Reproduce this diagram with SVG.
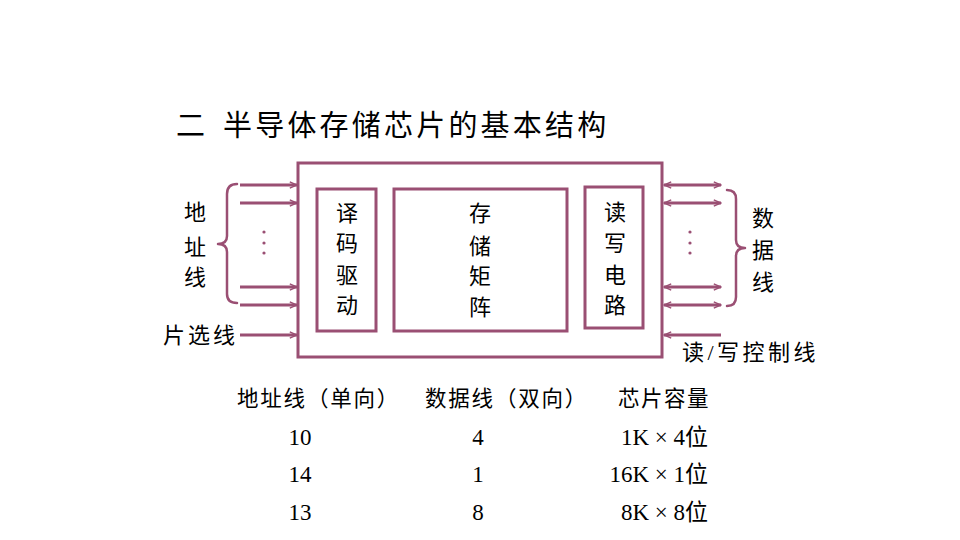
<svg xmlns="http://www.w3.org/2000/svg" width="960" height="540" viewBox="0 0 960 540">
<defs>
<style>
.box{fill:none;stroke:#9a4f73;stroke-width:3}
.ln{fill:none;stroke:#9a4f73;stroke-width:3}
.br{fill:none;stroke:#9a4f73;stroke-width:2.5;stroke-linecap:round;stroke-linejoin:round}
.dot{fill:#9a4f73}
.t{font-family:"Liberation Serif","Noto Sans CJK SC",serif;fill:#000}
.c{font-size:22px;text-anchor:middle}
.tb{font-size:21.5px;letter-spacing:1.8px}
.num{font-size:23px}
</style>
<marker id="ah" viewBox="0 0 10 10" refX="9" refY="5" markerWidth="9" markerHeight="9" markerUnits="userSpaceOnUse" orient="auto-start-reverse">
<path d="M1,1.5 L9,5 L1,8.5" fill="none" stroke="#9a4f73" stroke-width="1.6"/>
</marker>
</defs>
<rect width="960" height="540" fill="#fff"/>
<text class="t" x="176" y="136" style="font-size:29px">二</text>
<text class="t" x="223" y="136" style="font-size:29px;letter-spacing:3.2px">半导体存储芯片的基本结构</text>

<g id="chip">
<rect class="box" x="298" y="163" width="364" height="194"/>
</g>
<g id="decoder">
<rect class="box" x="317" y="189" width="59" height="142"/>
<text class="t c" x="347" y="221">译</text>
<text class="t c" x="347" y="251">码</text>
<text class="t c" x="347" y="283">驱</text>
<text class="t c" x="347" y="313">动</text>
</g>
<g id="matrix">
<rect class="box" x="394" y="189" width="173" height="142"/>
<text class="t c" x="480" y="221">存</text>
<text class="t c" x="480" y="254">储</text>
<text class="t c" x="480" y="284">矩</text>
<text class="t c" x="480" y="315">阵</text>
</g>
<g id="rw">
<rect class="box" x="585" y="187" width="58" height="141"/>
<text class="t c" x="615" y="220">读</text>
<text class="t c" x="615" y="251">写</text>
<text class="t c" x="615" y="283">电</text>
<text class="t c" x="615" y="313">路</text>
</g>

<g id="connectors">
<line class="ln" x1="240" y1="185" x2="297" y2="185" marker-end="url(#ah)"/>
<line class="ln" x1="240" y1="203" x2="297" y2="203" marker-end="url(#ah)"/>
<line class="ln" x1="240" y1="287" x2="297" y2="287" marker-end="url(#ah)"/>
<line class="ln" x1="240" y1="305" x2="297" y2="305" marker-end="url(#ah)"/>
<line class="ln" x1="240" y1="335" x2="297" y2="335" marker-end="url(#ah)"/>
<line class="ln" x1="664" y1="185" x2="721" y2="185" marker-start="url(#ah)" marker-end="url(#ah)"/>
<line class="ln" x1="664" y1="203" x2="721" y2="203" marker-start="url(#ah)" marker-end="url(#ah)"/>
<line class="ln" x1="664" y1="287" x2="721" y2="287" marker-start="url(#ah)" marker-end="url(#ah)"/>
<line class="ln" x1="664" y1="305" x2="721" y2="305" marker-start="url(#ah)" marker-end="url(#ah)"/>
<line class="ln" x1="721" y1="335" x2="664" y2="335" marker-end="url(#ah)"/>
</g>

<g id="addr-label">
<path class="br" d="M237,184 Q227,184 227,194 L227,236 Q227,244 218,244 Q227,244 227,252 L227,294 Q227,303 237,303"/>
<circle class="dot" cx="264" cy="232" r="1.6"/>
<circle class="dot" cx="264" cy="243" r="1.6"/>
<circle class="dot" cx="264" cy="253" r="1.6"/>
<text class="t c" x="195" y="220">地</text>
<text class="t c" x="195" y="255">址</text>
<text class="t c" x="195" y="285">线</text>
<text class="t" x="163" y="343" style="font-size:22px;letter-spacing:3px">片选线</text>
</g>
<g id="data-label">
<path class="br" d="M727,190 Q736,190 736,199 L736,240 Q736,248 745,248 Q736,248 736,256 L736,297 Q736,306 727,306"/>
<circle class="dot" cx="690" cy="232" r="1.6"/>
<circle class="dot" cx="690" cy="243" r="1.6"/>
<circle class="dot" cx="690" cy="253" r="1.6"/>
<text class="t c" x="763" y="226">数</text>
<text class="t c" x="763" y="258">据</text>
<text class="t c" x="763" y="290">线</text>
<text class="t" x="682" y="360" style="font-size:22px;letter-spacing:3.5px">读/写控制线</text>
</g>

<g id="table">
<text class="t tb" x="237" y="406">地址线（单向）</text>
<text class="t tb" x="425" y="406">数据线（双向）</text>
<text class="t tb" x="618" y="406" style="letter-spacing:1.5px">芯片容量</text>
<text class="t num" x="300" y="445" text-anchor="middle">10</text>
<text class="t num" x="300" y="482" text-anchor="middle">14</text>
<text class="t num" x="300" y="520" text-anchor="middle">13</text>
<text class="t num" x="478" y="445" text-anchor="middle">4</text>
<text class="t num" x="478" y="482" text-anchor="middle">1</text>
<text class="t num" x="478" y="520" text-anchor="middle">8</text>
<text class="t num" x="708" y="445" text-anchor="end">1K × 4位</text>
<text class="t num" x="708" y="482" text-anchor="end">16K × 1位</text>
<text class="t num" x="708" y="520" text-anchor="end">8K × 8位</text>
</g>
</svg>
